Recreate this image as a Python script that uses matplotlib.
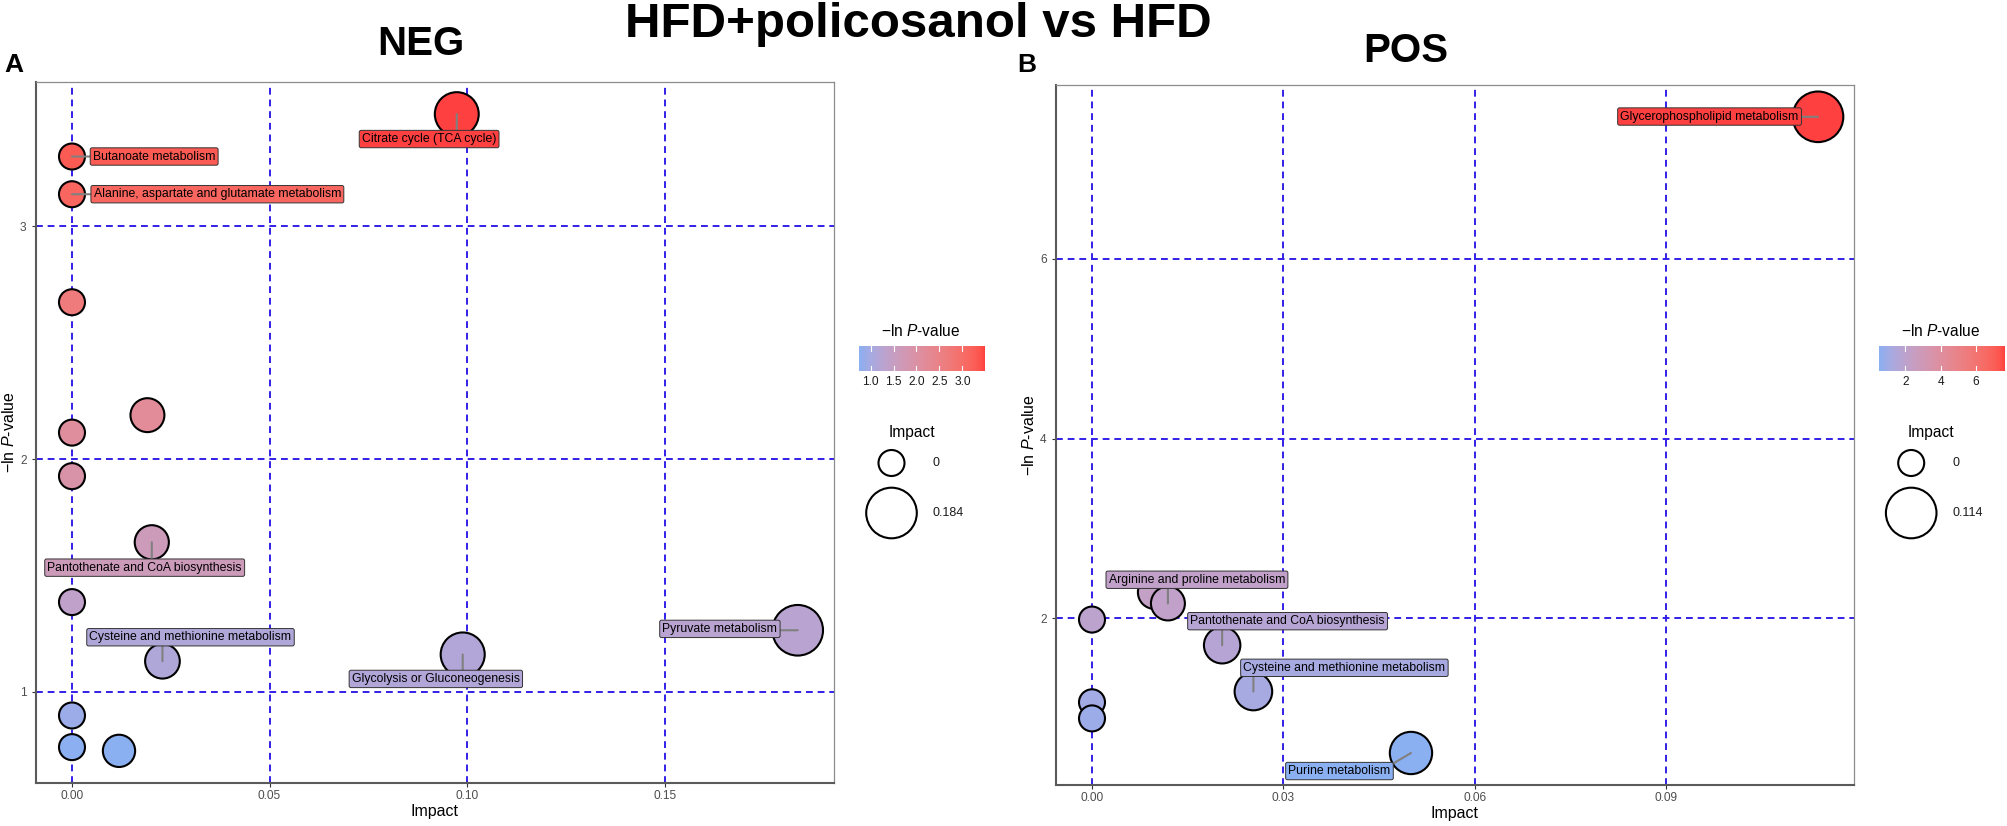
import numpy as np
import matplotlib
matplotlib.use('Agg')
import matplotlib.pyplot as plt
from matplotlib.colors import ListedColormap, Normalize, to_rgb

plt.rcParams['font.family'] = ['Liberation Sans', 'DejaVu Sans']
plt.rcParams['mathtext.fontset'] = 'custom'
plt.rcParams['mathtext.rm'] = 'Liberation Sans'
plt.rcParams['mathtext.it'] = 'Liberation Sans:italic'

# ---- data ----
neg_impact = [0.0974, 0.0, 0.0, 0.0, 0.0191, 0.0, 0.0, 0.0202, 0.0, 0.0229, 0.0989, 0.1837, 0.0, 0.0, 0.0119]
neg_lnp = [3.482, 3.300, 3.138, 2.674, 2.189, 2.114, 1.927, 1.643, 1.386, 1.132, 1.161, 1.265, 0.899, 0.763, 0.747]
neg_names = ['Citrate cycle (TCA cycle)', 'Butanoate metabolism',
             'Alanine, aspartate and glutamate metabolism', '', '', '', '',
             'Pantothenate and CoA biosynthesis', '', 'Cysteine and methionine metabolism',
             'Glycolysis or Gluconeogenesis', 'Pyruvate metabolism', '', '', '']

pos_impact = [0.1138, 0.0, 0.0, 0.0, 0.0098, 0.0119, 0.0204, 0.0253, 0.0500]
pos_lnp = [7.582, 1.987, 1.066, 0.887, 2.290, 2.166, 1.701, 1.186, 0.502]
pos_names = ['Glycerophospholipid metabolism', '', '', '', '',
             'Arginine and proline metabolism', 'Pantothenate and CoA biosynthesis',
             'Cysteine and methionine metabolism', 'Purine metabolism']

# where the repelled labels ended up (label centres, data units)
neg_label_pos = {
    'Citrate cycle (TCA cycle)': (0.0904, 3.375),
    'Butanoate metabolism': (0.0208, 3.300),
    'Alanine, aspartate and glutamate metabolism': (0.0368, 3.138),
    'Pantothenate and CoA biosynthesis': (0.0184, 1.534),
    'Cysteine and methionine metabolism': (0.0300, 1.235),
    'Glycolysis or Gluconeogenesis': (0.0921, 1.056),
    'Pyruvate metabolism': (0.1640, 1.271),
}
pos_label_pos = {
    'Glycerophospholipid metabolism': (0.0968, 7.585),
    'Arginine and proline metabolism': (0.01645, 2.430),
    'Pantothenate and CoA biosynthesis': (0.03066, 1.969),
    'Cysteine and methionine metabolism': (0.03956, 1.450),
    'Purine metabolism': (0.03879, 0.301),
}

W, H = 2008, 826

# ---- ggplot-like gradient (Lab interpolation), lightened like alpha 0.75 ----
M = np.array([[0.4124, 0.3576, 0.1805], [0.2126, 0.7152, 0.0722], [0.0193, 0.1192, 0.9505]])
WHITE = np.array([0.95047, 1.0, 1.08883])


def srgb_to_lab(c):
    c = np.asarray(c, float)
    lin = np.where(c > 0.04045, ((c + 0.055) / 1.055) ** 2.4, c / 12.92)
    xyz = M @ lin / WHITE
    f = np.where(xyz > 216 / 24389, np.cbrt(xyz), (24389 / 27 * xyz + 16) / 116)
    return np.array([116 * f[1] - 16, 500 * (f[0] - f[1]), 200 * (f[1] - f[2])])


def lab_to_srgb(lab):
    L, a, b = lab
    fy_ = (L + 16) / 116
    f = np.array([fy_ + a / 500, fy_, fy_ - b / 200])
    xyz = np.where(f ** 3 > 216 / 24389, f ** 3, (116 * f - 16) / (24389 / 27)) * WHITE
    lin = np.clip(np.linalg.solve(M, xyz), 0, 1)
    return np.where(lin > 0.0031308, 1.055 * lin ** (1 / 2.4) - 0.055, 12.92 * lin)


lo = srgb_to_lab(to_rgb('cornflowerblue'))
hi = srgb_to_lab(to_rgb('red'))
ramp = [np.clip(0.75 * lab_to_srgb(lo + t * (hi - lo)) + 0.25, 0, 1) for t in np.linspace(0, 1, 256)]
cmap = ListedColormap(ramp)


def bubble(impact, imax):
    r = 13.0 + 12.3 * np.sqrt(np.asarray(impact, float) / imax)
    return (2 * r * 72 / 100) ** 2


def fx(x):
    return x / W


def fy(y):
    return 1 - y / H


fig = plt.figure(figsize=(W / 100, H / 100), dpi=100)
renderer = fig.canvas.get_renderer()
gax = fig.add_axes([0, 0, 1, 1], zorder=5)
gax.set_xlim(0, W)
gax.set_ylim(H, 0)
gax.axis('off')

panels = [
    dict(impact=neg_impact, lnp=neg_lnp, names=neg_names, lab=neg_label_pos,
         box=(35.7, 82.3, 834.0, 782.7), xt=[0, 0.05, 0.10, 0.15], yt=[1, 2, 3],
         cbt=[1.0, 1.5, 2.0, 2.5, 3.0], cbf='%.1f', letter='A', lx=4.5,
         title='NEG', tx=420.5, ty=55, legx=859),
    dict(impact=pos_impact, lnp=pos_lnp, names=pos_names, lab=pos_label_pos,
         box=(1055.7, 85.0, 1854.3, 784.8), xt=[0, 0.03, 0.06, 0.09], yt=[2, 4, 6],
         cbt=[2, 4, 6], cbf='%d', letter='B', lx=1017,
         title='POS', tx=1405.5, ty=62, legx=1878.7),
]

for p in panels:
    l, t, r, b = p['box']
    ax = fig.add_axes([fx(l), fy(b), (r - l) / W, (b - t) / H])
    x = np.array(p['impact'])
    y = np.array(p['lnp'])
    norm = Normalize(y.min(), y.max())
    ax.scatter(x, y, s=bubble(x, x.max()), c=y, cmap=cmap, norm=norm,
               edgecolors='black', linewidths=1.5, zorder=3)
    xr = x.max() - x.min()
    yr = y.max() - y.min()
    ax.set_xlim(x.min() - 0.05 * xr, x.max() + 0.05 * xr)
    ax.set_ylim(y.min() - 0.05 * yr, y.max() + 0.05 * yr)
    ax.set_xticks(p['xt'])
    ax.set_xticklabels(['%.2f' % v for v in p['xt']])
    ax.set_yticks(p['yt'])
    ax.set_yticklabels(['%d' % v for v in p['yt']])
    ax.grid(True, color='#3320E8', linestyle=(0, (3.5, 2.5)), linewidth=1.4)
    ax.set_axisbelow(True)
    for side in ['left', 'bottom']:
        ax.spines[side].set_color('#5a5a5a')
        ax.spines[side].set_linewidth(1.5)
    for side in ['top', 'right']:
        ax.spines[side].set_color('#8c8c8c')
        ax.spines[side].set_linewidth(0.9)
    ax.tick_params(axis='x', length=3, width=0.8, color='#333333', pad=2.3,
                   labelsize=8.6, labelcolor='#4D4D4D')
    ax.tick_params(axis='y', length=3, width=0.8, color='#333333', pad=3.5,
                   labelsize=8.6, labelcolor='#4D4D4D')
    ax.set_xlabel('Impact', fontsize=11.5)
    ax.xaxis.set_label_coords(0.5, -0.030)
    ax.set_ylabel('\u2212ln $\\mathit{P}$-value', fontsize=11.5)
    ax.yaxis.set_label_coords(-0.023, 0.5)

    for xi, yi, name in zip(x, y, p['names']):
        if not name:
            continue
        lxy = p['lab'][name]
        # segment leaves the label at the box point closest to the bubble centre
        tmp = ax.text(lxy[0], lxy[1], name, ha='center', va='center', fontsize=8.8)
        bb = tmp.get_window_extent(renderer)
        tmp.remove()
        px, py = ax.transData.transform((xi, yi))
        rel = (float(np.clip((px - bb.x0) / bb.width, 0, 1)),
               float(np.clip((py - bb.y0) / bb.height, 0, 1)))
        ax.annotate(name, xy=(xi, yi), xytext=lxy, ha='center', va='center',
                    fontsize=8.8, color='black', zorder=4,
                    bbox=dict(boxstyle='round,pad=0.22,rounding_size=0.15',
                              fc=cmap(norm(yi)), ec='#333333', lw=0.7),
                    arrowprops=dict(arrowstyle='-', color='#808080', lw=1.5,
                                    shrinkA=0, shrinkB=0, relpos=rel))

    # titles
    fig.text(fx(p['tx']), fy(p['ty']), p['title'], ha='center', va='baseline',
             fontsize=29, fontweight='bold')
    fig.text(fx(p['lx']), fy(71.7), p['letter'], ha='left', va='baseline',
             fontsize=19, fontweight='bold')

    # colour guide
    lx = p['legx']
    fig.text(fx(lx + 62), fy(336), '\u2212ln $\\mathit{P}$-value', ha='center',
             va='baseline', fontsize=11.2)
    cax = fig.add_axes([fx(lx), fy(371.5), 125.5 / W, 25.5 / H])
    grad = np.linspace(y.min(), y.max(), 256)[None, :]
    cax.imshow(grad, extent=[y.min(), y.max(), 0, 1], aspect='auto', cmap=cmap, norm=norm)
    for v in p['cbt']:
        cax.plot([v, v], [0, 0.2], color='white', lw=0.8)
        cax.plot([v, v], [0.8, 1], color='white', lw=0.8)
    cax.set_xlim(y.min(), y.max())
    cax.set_ylim(0, 1)
    cax.set_xticks(p['cbt'])
    cax.set_xticklabels([p['cbf'] % v for v in p['cbt']])
    cax.set_yticks([])
    cax.tick_params(axis='x', length=0, pad=3.5, labelsize=8.6, labelcolor='#1A1A1A')
    for s in cax.spines.values():
        s.set_visible(False)

    # size guide
    fig.text(fx(lx + 52.7), fy(437.5), 'Impact', ha='center', va='baseline', fontsize=11.2)
    imax = x.max()
    gax.scatter([lx + 32.5, lx + 32.5], [463, 513], s=bubble([0, imax], imax),
                facecolors='none', edgecolors='black', linewidths=1.5)
    gax.text(lx + 74, 463, '0', ha='left', va='center', fontsize=9, color='#1A1A1A')
    gax.text(lx + 74, 513, '%.3f' % imax, ha='left', va='center', fontsize=9, color='#1A1A1A')

fig.text(fx(918), fy(37.3), 'HFD+policosanol vs HFD', ha='center', va='baseline',
         fontsize=35.5, fontweight='bold')

fig.savefig('out.png', dpi=100)
